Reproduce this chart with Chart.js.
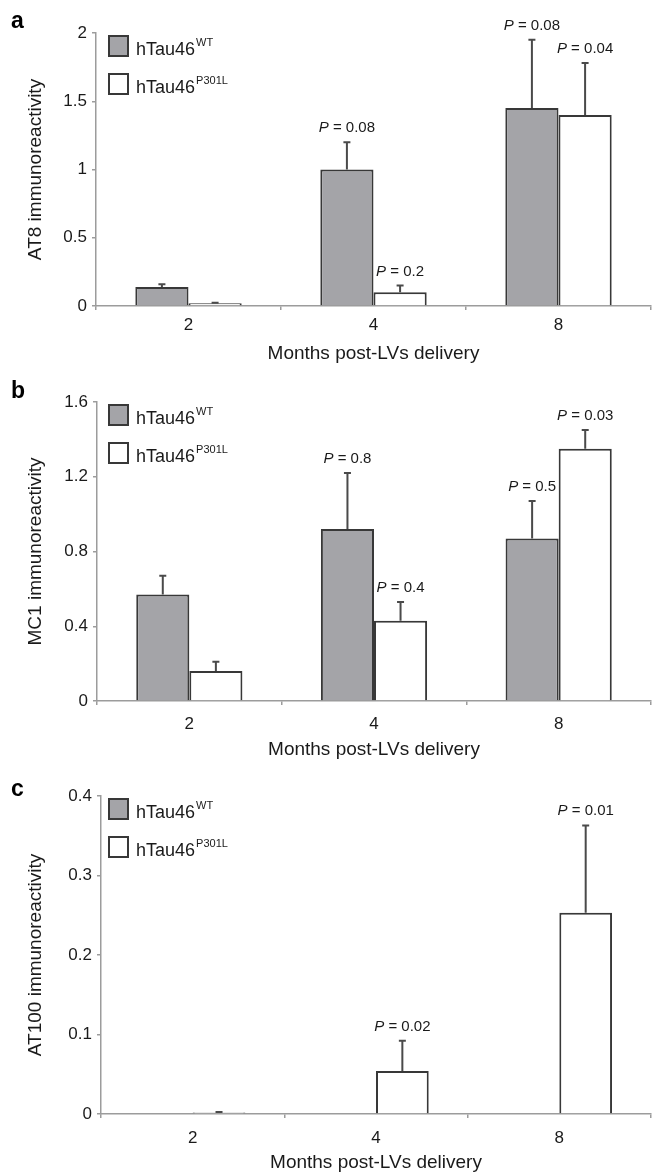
<!DOCTYPE html>
<html><head><meta charset="utf-8">
<script src="https://cdn.jsdelivr.net/npm/chart.js@4.4.1/dist/chart.umd.min.js"></script>
<style>
html,body{margin:0;padding:0;background:#fff;}
#wrap{position:relative;width:652px;height:1172px;overflow:hidden;background:#fff;}
canvas{position:absolute;left:0;}
</style></head><body>
<div id="wrap">
<canvas id="ca" style="top:0px" width="652" height="372"></canvas>
<canvas id="cb" style="top:372px" width="652" height="393"></canvas>
<canvas id="cc" style="top:765px" width="652" height="407"></canvas>
</div>
<script>
// ---- data ----
const months = ['2', '4', '8'];
const seriesBase = 'hTau46';
const seriesSup = ['WT', 'P301L'];

const at8WT = [0.14, 1.0, 1.45];
const at8WTErr = [0.02, 0.2, 0.5];
const at8P301L = [0.02, 0.1, 1.4];
const at8P301LErr = [0.004, 0.05, 0.38];
const at8WTP = ['', '0.08', '0.08'];
const at8P301LP = ['', '0.2', '0.04'];
const at8Ticks = [0, 0.5, 1, 1.5, 2];
const at8TickLabels = ['0', '0.5', '1', '1.5', '2'];

const mc1WT = [0.57, 0.92, 0.87];
const mc1WTErr = [0.10, 0.30, 0.20];
const mc1P301L = [0.16, 0.43, 1.35];
const mc1P301LErr = [0.05, 0.10, 0.10];
const mc1WTP = ['', '0.8', '0.5'];
const mc1P301LP = ['', '0.4', '0.03'];
const mc1Ticks = [0, 0.4, 0.8, 1.2, 1.6];
const mc1TickLabels = ['0', '0.4', '0.8', '1.2', '1.6'];

const at100WT = [0, 0, 0];
const at100WTErr = [0, 0, 0];
const at100P301L = [0.002, 0.054, 0.253];
const at100P301LErr = [0.0005, 0.038, 0.11];
const at100WTP = ['', '', ''];
const at100P301LP = ['', '0.02', '0.01'];
const at100Ticks = [0, 0.1, 0.2, 0.3, 0.4];
const at100TickLabels = ['0', '0.1', '0.2', '0.3', '0.4'];

const xTitle = 'Months post-LVs delivery';

// ---- style ----
const FONT = '"Liberation Sans", Arial, Helvetica, sans-serif';
const AXIS = '#9c9c9c';
const EDGE = '#383838';
const GRAYFILL = '#a4a4a8';

const overlay = {
  id: 'overlay',
  afterDatasetsDraw(chart) {
    const o = chart.options.plugins.overlay;
    const ctx = chart.ctx;
    const ys = chart.scales.y;
    ctx.save();
    chart.data.datasets.forEach((ds, di) => {
      const meta = chart.getDatasetMeta(di);
      meta.data.forEach((bar, j) => {
        const v = ds.data[j];
        const e = o.errs[di][j];
        if (!v && !e) return;
        const yTop = ys.getPixelForValue(v);
        const yErr = ys.getPixelForValue(v + e);
        ctx.strokeStyle = '#4a4a4a';
        ctx.lineWidth = 2;
        ctx.beginPath();
        ctx.moveTo(bar.x, yTop);
        ctx.lineTo(bar.x, yErr);
        ctx.moveTo(bar.x - 3.5, yErr);
        ctx.lineTo(bar.x + 3.5, yErr);
        ctx.stroke();
        const p = o.pvals[di][j];
        if (p) {
          const rest = ' = ' + p;
          ctx.fillStyle = '#1a1a1a';
          ctx.textBaseline = 'alphabetic';
          ctx.font = 'italic 15px ' + FONT;
          const wP = ctx.measureText('P').width;
          ctx.font = '15px ' + FONT;
          const wR = ctx.measureText(rest).width;
          const x0 = bar.x - (wP + wR) / 2;
          const by = yErr - 10;
          ctx.font = 'italic 15px ' + FONT;
          ctx.textAlign = 'left';
          ctx.fillText('P', x0, by);
          ctx.font = '15px ' + FONT;
          ctx.fillText(rest, x0 + wP, by);
        }
      });
    });
    ctx.restore();
  },
  afterDraw(chart) {
    const o = chart.options.plugins.overlay;
    const ctx = chart.ctx;
    const ca = chart.chartArea;
    ctx.save();
    // panel letter
    ctx.fillStyle = '#000';
    ctx.font = 'bold 23px ' + FONT;
    ctx.textAlign = 'left';
    ctx.textBaseline = 'alphabetic';
    ctx.fillText(o.letter, 11, o.letterY);
    // y title
    ctx.font = '19px ' + FONT;
    ctx.fillStyle = '#1a1a1a';
    ctx.save();
    ctx.translate(36, (ca.top + ca.bottom) / 2);
    ctx.rotate(-Math.PI / 2);
    ctx.textAlign = 'center';
    ctx.textBaseline = 'middle';
    ctx.fillText(o.yTitle, 0, 0);
    ctx.restore();
    // x title
    ctx.textAlign = 'center';
    ctx.textBaseline = 'middle';
    ctx.fillText(xTitle, (ca.left + ca.right) / 2, o.xTitleY);
    // legend
    const fills = [GRAYFILL, '#ffffff'];
    for (let i = 0; i < 2; i++) {
      const sy = ca.top + 3 + i * 38;
      ctx.fillStyle = fills[i];
      ctx.fillRect(109, sy, 19, 20);
      ctx.strokeStyle = EDGE;
      ctx.lineWidth = 2;
      ctx.strokeRect(109, sy, 19, 20);
      ctx.fillStyle = '#1a1a1a';
      ctx.textAlign = 'left';
      ctx.textBaseline = 'alphabetic';
      ctx.font = '18px ' + FONT;
      ctx.fillText(seriesBase, 136, sy + 19);
      const w = ctx.measureText(seriesBase).width;
      ctx.font = '11px ' + FONT;
      ctx.fillText(seriesSup[i], 136 + w + 1, sy + 10);
    }
    ctx.restore();
  }
};

function makePanel(id, cfg) {
  const canvas = document.getElementById(id);
  const H = canvas.height;
  return new Chart(canvas, {
    type: 'bar',
    data: {
      labels: months,
      datasets: [
        { label: seriesBase + seriesSup[0], data: cfg.wt, backgroundColor: GRAYFILL,
          borderColor: EDGE, borderWidth: 2, categoryPercentage: 0.575, barPercentage: 1 },
        { label: seriesBase + seriesSup[1], data: cfg.mut, backgroundColor: '#ffffff',
          borderColor: EDGE, borderWidth: 2, categoryPercentage: 0.575, barPercentage: 1 }
      ]
    },
    options: {
      responsive: false,
      animation: false,
      devicePixelRatio: 1,
      layout: { padding: { top: cfg.top, right: 1, left: 0, bottom: 0 } },
      plugins: {
        legend: { display: false },
        tooltip: { enabled: false },
        overlay: { errs: cfg.errs, pvals: cfg.pvals, letter: cfg.letter, letterY: cfg.letterY,
                   yTitle: cfg.yTitle, xTitleY: cfg.xTitleY }
      },
      scales: {
        x: {
          offset: true,
          grid: { offset: true, drawOnChartArea: false, drawTicks: true, tickLength: 4,
                  color: AXIS, lineWidth: 1.5 },
          border: { color: AXIS, width: 1.5 },
          ticks: { color: '#1a1a1a', font: { family: FONT, size: 17 }, padding: cfg.xPad },
          afterFit: (s) => { s.height = H - cfg.bottom; }
        },
        y: {
          min: cfg.ticks[0],
          max: cfg.ticks[cfg.ticks.length - 1],
          afterBuildTicks: (s) => { s.ticks = cfg.ticks.map(v => ({ value: v })); },
          grid: { drawOnChartArea: false, drawTicks: true, tickLength: 4, color: AXIS, lineWidth: 1.5 },
          border: { color: AXIS, width: 1.5 },
          ticks: {
            color: '#1a1a1a', font: { family: FONT, size: 17 }, padding: 5,
            callback: (v, i) => cfg.tickLabels[i]
          },
          afterFit: (s) => { s.width = cfg.left; }
        }
      }
    },
    plugins: [overlay]
  });
}

makePanel('ca', {
  wt: at8WT, mut: at8P301L, errs: [at8WTErr, at8P301LErr], pvals: [at8WTP, at8P301LP],
  ticks: at8Ticks, tickLabels: at8TickLabels, yTitle: 'AT8 immunoreactivity', letter: 'a',
  top: 33, bottom: 306, left: 96, xPad: 5, xTitleY: 354, letterY: 28
});
makePanel('cb', {
  wt: mc1WT, mut: mc1P301L, errs: [mc1WTErr, mc1P301LErr], pvals: [mc1WTP, mc1P301LP],
  ticks: mc1Ticks, tickLabels: mc1TickLabels, yTitle: 'MC1 immunoreactivity', letter: 'b',
  top: 30, bottom: 329, left: 97, xPad: 9, xTitleY: 378, letterY: 26
});
makePanel('cc', {
  wt: at100WT, mut: at100P301L, errs: [at100WTErr, at100P301LErr], pvals: [at100WTP, at100P301LP],
  ticks: at100Ticks, tickLabels: at100TickLabels, yTitle: 'AT100 immunoreactivity', letter: 'c',
  top: 31, bottom: 349, left: 101, xPad: 10, xTitleY: 398, letterY: 31
});
</script>
</body></html>
